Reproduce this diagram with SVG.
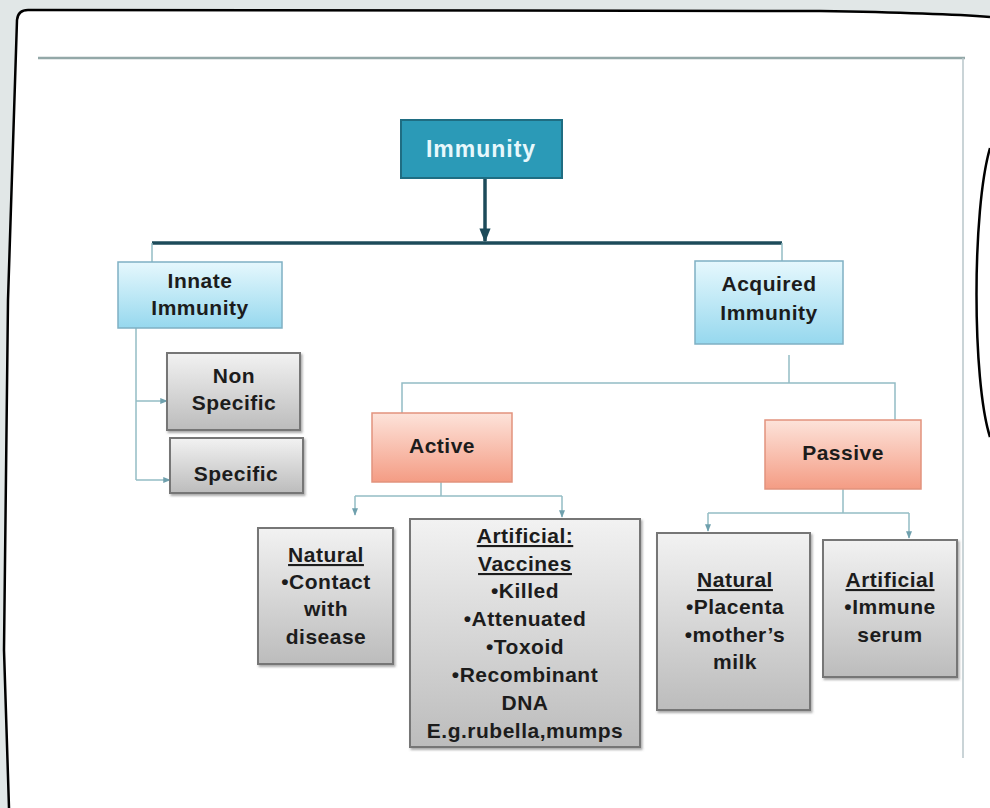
<svg xmlns="http://www.w3.org/2000/svg" width="990" height="808" viewBox="0 0 990 808">
<defs>
<linearGradient id="gGray" x1="0" y1="0" x2="0" y2="1"><stop offset="0" stop-color="#f2f2f2"/><stop offset="1" stop-color="#bcbcbc"/></linearGradient>
<linearGradient id="gBlue" x1="0" y1="0" x2="0" y2="1"><stop offset="0" stop-color="#e6f8fd"/><stop offset="1" stop-color="#96d8ee"/></linearGradient>
<linearGradient id="gRed" x1="0" y1="0" x2="0" y2="1"><stop offset="0" stop-color="#fde3da"/><stop offset="1" stop-color="#f49c84"/></linearGradient>
<filter id="sh" x="-10%" y="-10%" width="130%" height="130%"><feDropShadow dx="1.5" dy="2" stdDeviation="1" flood-color="#555" flood-opacity="0.5"/></filter>
<marker id="ar" viewBox="0 0 10 10" refX="9" refY="5" markerWidth="5" markerHeight="5" orient="auto"><path d="M0,1 L10,5 L0,9 z" fill="#6fa0ad"/></marker>
<marker id="arD" viewBox="0 0 10 10" refX="9" refY="5" markerWidth="4" markerHeight="4" orient="auto"><path d="M0,1 L10,5 L0,9 z" fill="#1d4b5a"/></marker>
</defs>
<style>
.t{font-family:"Liberation Sans",Arial,sans-serif;font-weight:bold;font-size:21px;letter-spacing:0.5px;fill:#1c1c1c;text-anchor:middle}
.u{text-decoration:underline}
.gray{fill:url(#gGray);stroke:#767676;stroke-width:2;filter:url(#sh)}
.blue{fill:url(#gBlue);stroke:#7fb0c3;stroke-width:1.5}
.red{fill:url(#gRed);stroke:#e2937d;stroke-width:1.5}
.thin{fill:none;stroke:#93bcc5;stroke-width:1.5}
.thick{fill:none;stroke:#1d4b5a;stroke-width:3.5}
</style>
<rect width="990" height="808" fill="#e1e7e7"/>
<path d="M990 17 C940 13 880 12 820 11 L28 10 Q18 10 17 20 L8 300 L4 650 L9 808 L990 808 Z" fill="#ffffff"/>
<path d="M990 17 C940 13 880 12 820 11 L28 10 Q18 10 17 20 L8 300 L4 650 L9 808" fill="none" stroke="#000" stroke-width="2.5"/>
<path d="M990 148 C972 210 972 380 990 437" fill="none" stroke="#000" stroke-width="2.5"/>
<line x1="38" y1="58" x2="965" y2="58" stroke="#93a8a8" stroke-width="2.5"/>
<line x1="963" y1="58" x2="963" y2="758" stroke="#b9c6ca" stroke-width="1.5"/>
<g id="connectors">
<line class="thick" x1="485" y1="178" x2="485" y2="241" marker-end="url(#arD)"/>
<line class="thick" x1="152" y1="243" x2="782" y2="243"/>
<line class="thin" x1="152" y1="243" x2="152" y2="262"/>
<line class="thin" x1="782" y1="243" x2="782" y2="261"/>
<path class="thin" d="M136 328 V480"/>
<line class="thin" x1="136" y1="401" x2="167" y2="401" marker-end="url(#ar)"/>
<line class="thin" x1="136" y1="480" x2="170" y2="480" marker-end="url(#ar)"/>
<line class="thin" x1="789" y1="355" x2="789" y2="383"/>
<path class="thin" d="M402 413 V383 H895 V420"/>
<line class="thin" x1="441" y1="482" x2="441" y2="496"/>
<path class="thin" d="M355 496 H562"/>
<line class="thin" x1="355" y1="496" x2="355" y2="515" marker-end="url(#ar)"/>
<line class="thin" x1="562" y1="496" x2="562" y2="517" marker-end="url(#ar)"/>
<line class="thin" x1="843" y1="489" x2="843" y2="513"/>
<path class="thin" d="M708 513 H909"/>
<line class="thin" x1="708" y1="513" x2="708" y2="531" marker-end="url(#ar)"/>
<line class="thin" x1="909" y1="513" x2="909" y2="538" marker-end="url(#ar)"/>
</g>
<g id="immunity">
<rect x="401" y="120" width="161" height="58" fill="#2b9ab7" stroke="#1f6d82" stroke-width="2"/>
<text class="t" x="481" y="157" style="fill:#e8f8fc;font-size:23px;letter-spacing:1px">Immunity</text>
</g>
<g id="innate">
<rect class="blue" x="118" y="262" width="164" height="66"/>
<text class="t" x="200" y="288">Innate</text>
<text class="t" x="200" y="315">Immunity</text>
</g>
<g id="acquired">
<rect class="blue" x="695" y="261" width="148" height="83"/>
<text class="t" x="769" y="291">Acquired</text>
<text class="t" x="769" y="320">Immunity</text>
</g>
<g id="nonspecific">
<rect class="gray" x="167" y="353" width="133" height="77"/>
<text class="t" x="234" y="383">Non</text>
<text class="t" x="234" y="410">Specific</text>
</g>
<g id="specific">
<rect class="gray" x="170" y="438" width="133" height="55"/>
<text class="t" x="236" y="481">Specific</text>
</g>
<g id="active">
<rect class="red" x="372" y="413" width="140" height="69"/>
<text class="t" x="442" y="453">Active</text>
</g>
<g id="passive">
<rect class="red" x="765" y="420" width="156" height="69"/>
<text class="t" x="843" y="460">Passive</text>
</g>
<g id="active-natural">
<rect class="gray" x="258" y="528" width="135" height="136"/>
<text class="t u" x="326" y="562">Natural</text>
<text class="t" x="326" y="589">•Contact</text>
<text class="t" x="326" y="616">with</text>
<text class="t" x="326" y="644">disease</text>
</g>
<g id="active-artificial">
<rect class="gray" x="410" y="519" width="230" height="228"/>
<text class="t u" x="525" y="543">Artificial:</text>
<text class="t u" x="525" y="571">Vaccines</text>
<text class="t" x="525" y="598">•Killed</text>
<text class="t" x="525" y="626">•Attenuated</text>
<text class="t" x="525" y="654">•Toxoid</text>
<text class="t" x="525" y="682">•Recombinant</text>
<text class="t" x="525" y="710">DNA</text>
<text class="t" x="525" y="738">E.g.rubella,mumps</text>
</g>
<g id="passive-natural">
<rect class="gray" x="657" y="533" width="153" height="177"/>
<text class="t u" x="735" y="587">Natural</text>
<text class="t" x="735" y="614">•Placenta</text>
<text class="t" x="735" y="642">•mother’s</text>
<text class="t" x="735" y="669">milk</text>
</g>
<g id="passive-artificial">
<rect class="gray" x="823" y="540" width="134" height="137"/>
<text class="t u" x="890" y="587">Artificial</text>
<text class="t" x="890" y="614">•Immune</text>
<text class="t" x="890" y="642">serum</text>
</g>
</svg>
